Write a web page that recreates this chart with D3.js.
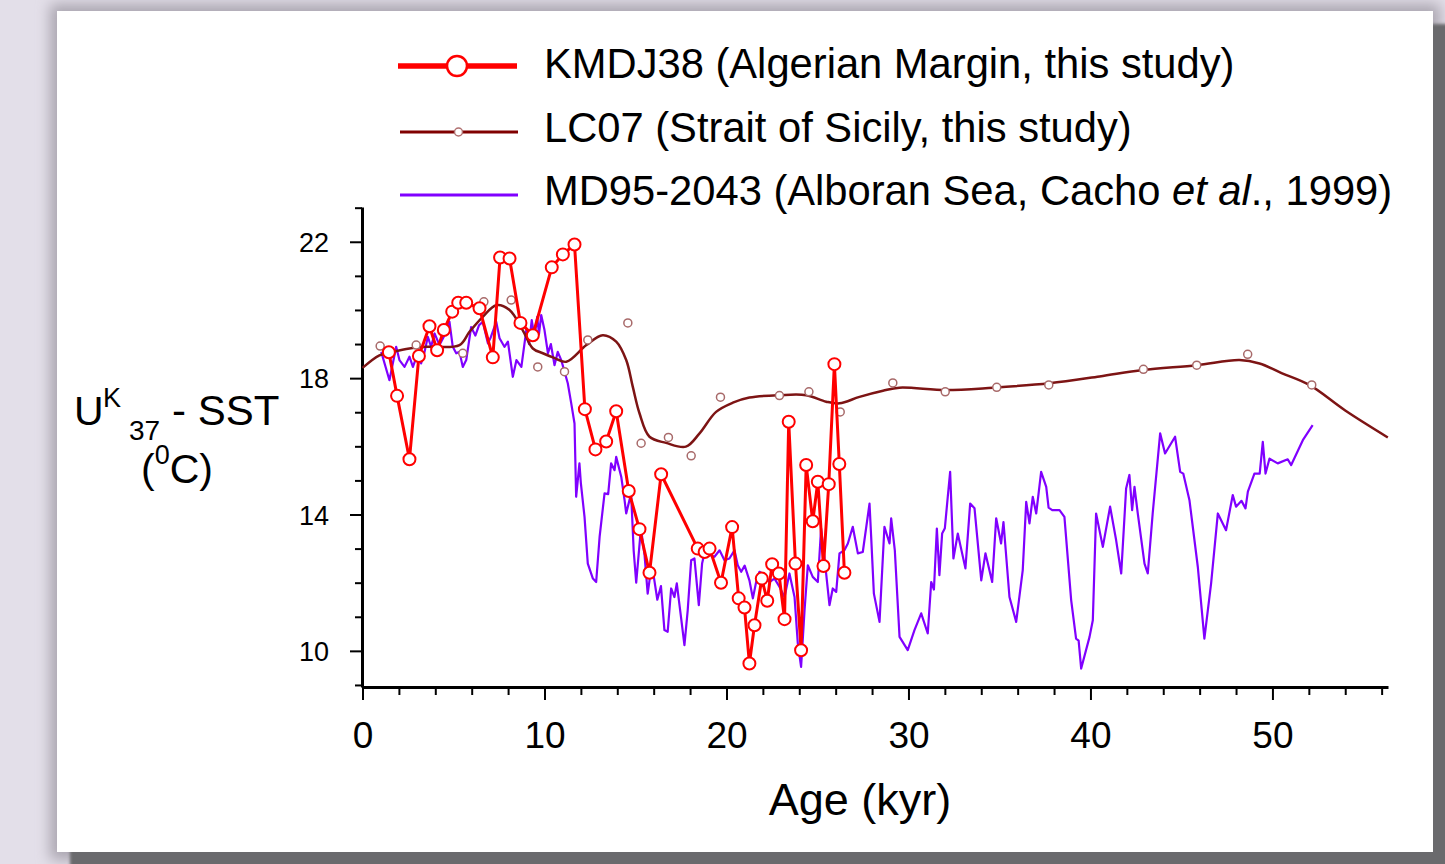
<!DOCTYPE html>
<html><head><meta charset="utf-8">
<script src="https://cdn.jsdelivr.net/npm/d3@7"></script>
<style>body{margin:0;background:#e2dee8;} svg{display:block;}</style>
</head><body><svg id="c" width="1445" height="864"></svg>
<script>
// ---------- DATA ----------
const kmdjAge = [1.45,1.9,2.58,3.1,3.68,4.1,4.47,4.93,5.26,5.7,6.43,7.16,7.56,8.08,8.68,9.36,10.4,11.01,11.65,12.22,12.8,13.39,13.94,14.63,15.22,15.77,16.41,18.42,18.8,19.07,19.7,20.31,20.67,20.99,21.26,21.54,21.94,22.24,22.51,22.88,23.19,23.42,23.79,24.1,24.38,24.74,25.02,25.33,25.62,25.93,26.2,26.48];
const kmdjSst = [18.76,17.48,15.62,18.65,19.52,18.82,19.41,19.95,20.21,20.21,20.05,18.61,21.54,21.51,19.62,19.26,21.25,21.63,21.92,17.09,15.91,16.14,17.03,14.69,13.57,12.29,15.18,13.0,12.9,13.0,12.0,13.63,11.54,11.27,9.63,10.75,12.12,11.47,12.54,12.27,10.93,16.72,12.56,10.02,15.45,13.8,14.96,12.49,14.89,18.41,15.48,12.29];

const lc07CurveAge = [0.0,0.93,1.66,2.58,3.5,5.33,5.88,6.61,7.35,8.08,8.8,9.36,9.91,10.5,11.2,12.3,13.2,13.94,14.49,14.85,15.22,15.77,16.68,17.77,18.52,19.43,20.35,21.26,22.91,24.38,25.48,26.21,27.31,28.6,29.5,32.07,34.64,37.75,40.5,42.87,45.84,48.19,49.29,50.5,52.03,54.0,56.34];
const lc07CurveSst = [18.3,18.67,18.77,18.87,18.92,18.97,19.36,19.8,20.14,20.0,19.41,18.87,18.73,18.6,18.48,18.97,19.26,19.07,18.53,17.75,16.97,16.28,16.1,15.99,16.38,17.01,17.28,17.43,17.5,17.5,17.31,17.26,17.45,17.63,17.72,17.65,17.72,17.85,18.05,18.24,18.38,18.53,18.43,18.15,17.8,17.05,16.26];

const lc07SampleAge = [0.97,2.95,5.51,6.67,8.17,9.63,11.1,12.38,14.58,15.31,16.81,18.06,19.67,22.91,24.53,26.25,29.14,32.02,34.85,37.71,42.91,45.84,48.64,52.16];
const lc07SampleSst = [18.94,18.97,18.73,20.24,20.29,18.33,18.19,19.12,19.62,16.09,16.26,15.72,17.44,17.49,17.6,17.01,17.86,17.6,17.73,17.8,18.26,18.38,18.7,17.8];

const md95Age = [1.03,1.48,1.85,2.03,2.31,2.58,2.77,3.04,3.22,3.41,3.59,3.77,3.96,4.23,4.51,4.78,4.96,5.15,5.33,5.51,5.7,5.97,6.2,6.4,6.61,6.89,7.05,7.35,7.53,7.8,7.99,8.26,8.46,8.73,9.0,9.15,9.3,9.45,9.6,9.7,9.82,10.0,10.19,10.35,10.55,10.73,10.92,11.1,11.28,11.47,11.65,11.74,11.92,12.0,12.2,12.38,12.66,12.84,13.03,13.3,13.5,13.66,13.85,13.94,14.22,14.4,14.49,14.76,14.9,15.04,15.3,15.5,15.67,15.85,16.0,16.2,16.4,16.59,16.77,16.96,17.14,17.27,17.51,17.69,17.87,18.06,18.24,18.48,18.66,18.79,19.07,19.34,19.62,19.89,20.16,20.44,20.62,20.81,21.0,21.26,21.45,21.63,21.81,22.09,22.36,22.64,22.91,23.19,23.46,23.74,23.92,24.1,24.29,24.47,24.74,25.02,25.2,25.38,25.66,25.84,26.03,26.21,26.48,26.67,26.94,27.22,27.49,27.86,27.95,28.1,28.41,28.68,28.96,29.05,29.25,29.51,29.96,30.33,30.7,31.06,31.25,31.4,31.56,31.7,31.85,32.0,32.16,32.29,32.47,32.71,33.13,33.39,33.63,34.0,34.23,34.6,34.82,35.09,35.22,35.55,35.92,36.28,36.47,36.65,36.83,37.02,37.29,37.57,37.7,37.9,38.3,38.57,38.94,39.21,39.35,39.49,39.95,40.13,40.31,40.68,41.08,41.41,41.69,41.96,42.14,42.29,42.42,42.6,42.97,43.15,43.42,43.83,44.1,44.65,44.93,45.1,45.44,45.9,46.26,46.63,47.0,47.45,47.82,48.0,48.3,48.52,48.65,49.01,49.3,49.47,49.62,49.84,50.29,50.84,51.03,51.67,52.21];
const md95Sst = [18.77,17.94,18.92,18.53,18.33,18.63,18.33,18.73,18.43,18.77,19.21,18.92,19.31,18.97,19.26,19.65,18.92,18.73,18.77,18.33,18.53,19.5,19.25,19.55,19.65,19.02,19.2,19.65,19.17,18.92,19.07,18.04,18.53,18.33,19.41,19.0,19.7,19.2,19.8,19.3,19.85,19.41,18.73,19.0,18.38,18.77,18.53,18.19,17.85,17.26,16.67,14.52,15.5,14.91,13.93,12.56,12.12,12.02,13.35,14.62,14.6,15.5,15.3,15.69,15.1,14.42,14.03,14.62,12.95,12.0,13.6,12.8,11.68,12.37,12.2,11.5,11.9,10.61,10.56,11.83,11.58,11.98,10.95,10.17,11.19,12.66,12.71,11.34,12.56,12.86,12.81,12.76,12.95,12.66,12.71,12.95,12.51,12.32,12.5,12.07,11.54,12.02,12.32,12.22,12.02,12.12,11.88,11.58,12.27,11.58,10.22,9.53,11.19,12.51,12.17,12.02,13.59,12.76,11.34,11.83,11.73,12.86,12.95,13.15,13.64,12.86,12.9,14.32,13.35,11.68,10.85,13.64,13.15,13.89,12.95,10.41,10.02,10.61,11.1,10.51,12.02,11.8,13.59,12.22,13.44,13.6,14.52,15.25,12.71,13.44,12.42,14.32,14.18,12.07,12.86,12.02,13.89,13.15,13.78,11.58,10.85,12.37,14.37,13.74,14.52,14.03,15.25,14.81,14.2,14.13,14.13,13.93,11.49,10.36,10.3,9.48,10.41,10.9,14.03,13.05,14.23,13.25,12.27,14.76,15.16,14.13,14.81,14.03,12.56,12.27,14.03,16.38,15.79,16.28,15.25,15.2,14.42,12.46,10.36,11.98,14.03,13.54,14.57,14.23,14.4,14.18,14.67,15.2,15.2,16.13,15.2,15.64,15.5,15.62,15.45,16.18,16.62];

const xTickLabels = [0,10,20,30,40,50];
const yTickLabels = [10,14,18,22];
const legendLabels = ["KMDJ38 (Algerian Margin, this study)", "LC07 (Strait of Sicily, this study)", "MD95-2043 (Alboran Sea, Cacho et al., 1999)"];

// ---------- CHART ----------
const FONT = "'Liberation Sans', Arial, Helvetica, sans-serif";
const svg = d3.select("#c");
const defs = svg.append("defs");
defs.append("filter").attr("id","halo").attr("x","-10%").attr("y","-10%").attr("width","120%").attr("height","120%")
  .append("feGaussianBlur").attr("stdDeviation",7);
defs.append("filter").attr("id","soft").append("feGaussianBlur").attr("stdDeviation",1.5);

svg.append("rect").attr("width",1445).attr("height",864).attr("fill","#e3dfe9");
svg.append("rect").attr("x",50).attr("y",4).attr("width",1390).attr("height",856).attr("fill","#aaa6b0").attr("filter","url(#halo)");
svg.append("rect").attr("x",70).attr("y",24).attr("width",1400).attr("height",860).attr("fill","#6b6b6d").attr("filter","url(#soft)");
svg.append("rect").attr("x",57).attr("y",11).attr("width",1376).attr("height",841).attr("fill","#ffffff");

const x = d3.scaleLinear().domain([0,56.35]).range([362.5,1388]);
const y = d3.scaleLinear().domain([8.94,23.02]).range([687,207]);

// axes
const xAxis = svg.append("g").attr("transform","translate(0,687)")
  .call(d3.axisBottom(x).tickValues(d3.range(0,57,2)).tickSize(8).tickSizeOuter(0)
    .tickFormat(d => xTickLabels.includes(d) ? d : ""));
xAxis.select(".domain").attr("stroke","#000").attr("stroke-width",3);
xAxis.selectAll(".tick line").attr("stroke","#000").attr("stroke-width",2)
  .attr("y2", d => xTickLabels.includes(d) ? 13 : 8);
xAxis.selectAll(".tick text").attr("font-family",FONT).attr("font-size",37).attr("fill","#000")
  .attr("dy","0").attr("y",61);

const yAxis = svg.append("g").attr("transform","translate(362,0)")
  .call(d3.axisLeft(y).tickValues(d3.range(9,24,1)).tickSize(7).tickSizeOuter(0)
    .tickFormat(d => yTickLabels.includes(d) ? d : ""));
yAxis.select(".domain").attr("stroke","#000").attr("stroke-width",3);
yAxis.selectAll(".tick line").attr("stroke","#000").attr("stroke-width",2)
  .attr("x2", d => yTickLabels.includes(d) ? -12 : -7);
yAxis.selectAll(".tick text").attr("font-family",FONT).attr("font-size",27).attr("fill","#000")
  .attr("x",-33).attr("dy","0.36em");

// axis titles
svg.append("text").attr("x",860).attr("y",815).attr("text-anchor","middle")
  .attr("font-family",FONT).attr("font-size",45).text("Age (kyr)");
const yt = svg.append("g").attr("font-family",FONT).attr("fill","#000");
yt.append("text").attr("x",74).attr("y",425).attr("font-size",41).text("U");
yt.append("text").attr("x",103).attr("y",407).attr("font-size",27).text("K");
yt.append("text").attr("x",129).attr("y",440).attr("font-size",28).text("37");
yt.append("text").attr("x",172).attr("y",425).attr("font-size",42).text("- SST");
const yt2 = yt.append("text").attr("x",177).attr("y",483).attr("text-anchor","middle").attr("font-size",41);
yt2.append("tspan").text("(");
yt2.append("tspan").attr("font-size",27).attr("dy",-19).text("0");
yt2.append("tspan").attr("dy",19).text("C)");

// series
const md95 = d3.zip(md95Age, md95Sst);
const lcCurve = d3.zip(lc07CurveAge, lc07CurveSst);
const lcPts = d3.zip(lc07SampleAge, lc07SampleSst);
const kmdj = d3.zip(kmdjAge, kmdjSst);

const line = d3.line().x(d => x(d[0])).y(d => y(d[1]));
svg.append("path").datum(md95).attr("d", line).attr("fill","none")
  .attr("stroke","#8000ff").attr("stroke-width",2.2).attr("stroke-linejoin","round");
svg.append("path").datum(lcCurve).attr("d", line.curve(d3.curveCatmullRom.alpha(0.5)))
  .attr("fill","none").attr("stroke","#7d1414").attr("stroke-width",2.5);
line.curve(d3.curveLinear);
svg.append("g").selectAll("circle").data(lcPts).join("circle")
  .attr("cx", d => x(d[0])).attr("cy", d => y(d[1])).attr("r",4)
  .attr("fill","#fff").attr("stroke","#a86a6a").attr("stroke-width",1.5);
svg.append("path").datum(kmdj).attr("d", line).attr("fill","none")
  .attr("stroke","#ff0000").attr("stroke-width",3).attr("stroke-linejoin","round");
svg.append("g").selectAll("circle").data(kmdj).join("circle")
  .attr("cx", d => x(d[0])).attr("cy", d => y(d[1])).attr("r",6)
  .attr("fill","#fff").attr("stroke","#ff0000").attr("stroke-width",2);

// legend
const lg = svg.append("g");
lg.append("line").attr("x1",398).attr("x2",517).attr("y1",66).attr("y2",66).attr("stroke","#ff0000").attr("stroke-width",5.5);
lg.append("circle").attr("cx",457).attr("cy",66).attr("r",10).attr("fill","#fff").attr("stroke","#ff0000").attr("stroke-width",2.5);
lg.append("line").attr("x1",400).attr("x2",518).attr("y1",132).attr("y2",132).attr("stroke","#800000").attr("stroke-width",3);
lg.append("circle").attr("cx",458.5).attr("cy",132).attr("r",4).attr("fill","#fff").attr("stroke","#b07070").attr("stroke-width",1.5);
lg.append("line").attr("x1",400).attr("x2",518).attr("y1",195).attr("y2",195).attr("stroke","#8000ff").attr("stroke-width",3);
const baselines = [78,142,205];
lg.selectAll("text.lab").data(legendLabels.slice(0,2)).join("text").attr("class","lab")
  .attr("x",544).attr("y",(d,i)=>baselines[i]).attr("font-family",FONT).attr("font-size",41.7).text(d=>d);
const t3 = lg.append("text").attr("x",544).attr("y",baselines[2]).attr("font-family",FONT).attr("font-size",41.7);
const parts = legendLabels[2].split("et al");
t3.append("tspan").text(parts[0]);
t3.append("tspan").attr("font-style","italic").text("et al");
t3.append("tspan").text(parts[1]);
</script>
</body></html>
